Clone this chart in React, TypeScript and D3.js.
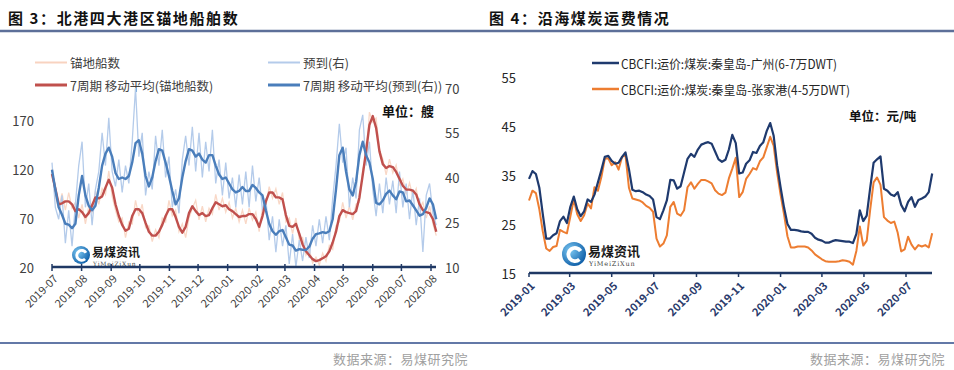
import React from 'react';
import * as d3 from 'd3';

// ---------- Figure 3: anchored ships (left axis) & arrivals (right axis) ----------
const anchorMonths = ['2019-07', '2019-08', '2019-09', '2019-10', '2019-11', '2019-12', '2020-01', '2020-02', '2020-03', '2020-04', '2020-05', '2020-06', '2020-07', '2020-08'];
const anchorLeftTicks = [20, 70, 120, 170];
const anchorRightTicks = [10, 25, 40, 55, 70];
const anchorStart = '2019-07-01';
const anchorStepDays = 3.5;

// 锚地船数 (raw)
const anchorRaw = [
  120, 92, 80, 95, 78, 96, 80, 86, 70, 84,
  64, 82, 76, 98, 84, 100, 94, 118, 92, 78,
  66, 70, 50, 66, 64, 88, 72, 84, 60, 62,
  46, 58, 50, 70, 66, 88, 72, 78, 56, 64,
  50, 70, 80, 88, 68, 82, 66, 80, 74, 94,
  78, 90, 76, 86, 70, 80, 66, 78, 64, 80,
  68, 76, 56, 80, 82, 102, 90, 100, 84, 96,
  66, 70, 54, 70, 48, 50, 32, 38, 24, 30,
  22, 34, 26, 42, 38, 62, 66, 86, 70, 82,
  68, 84, 86, 120, 130, 178, 168, 172, 140, 130,
  114, 130, 116, 124, 104, 110, 94, 106, 92, 100,
  80, 86, 70, 82, 64, 52,
];
// 7周期 移动平均(锚地船数)
const anchorMA = [
  115, 100, 84, 85, 87, 87, 84, 77, 79, 76,
  71, 75, 83, 91, 90, 92, 101, 109, 101, 84,
  72, 63, 57, 59, 72, 79, 79, 75, 65, 56,
  52, 52, 56, 63, 72, 79, 79, 71, 61, 55,
  61, 75, 82, 77, 73, 75, 72, 73, 80, 86,
  84, 82, 83, 79, 77, 74, 71, 72, 72, 74,
  74, 69, 61, 72, 87, 96, 96, 91, 91, 89,
  73, 62, 61, 64, 54, 43, 36, 32, 28, 26,
  27, 29, 31, 36, 45, 56, 72, 78, 76, 75,
  74, 77, 91, 114, 138, 165, 174, 162, 138, 125,
  121, 123, 122, 117, 110, 103, 99, 99, 98, 94,
  84, 78, 76, 75, 69, 56,
];
// 预到(右) (raw)
const arrivalRaw = [
  45, 30, 26, 34, 18, 29, 17, 31, 44, 52,
  30, 38, 24, 36, 42, 55, 44, 60, 42, 37,
  46, 35, 44, 38, 52, 70, 47, 55, 34, 42,
  36, 54, 44, 56, 40, 47, 30, 36, 28, 46,
  54, 44, 57, 42, 55, 40, 52, 42, 56, 38,
  46, 34, 45, 33, 40, 30, 41, 31, 42, 30,
  44, 32, 40, 29, 33, 19, 27, 15, 26, 17,
  24, 11, 21, 10, 19, 12, 20, 13, 24, 17,
  26, 18, 27, 19, 33, 44, 58, 45, 50, 30,
  40, 33, 56, 61, 44, 52, 36, 27, 38, 28,
  40, 31, 39, 28, 42, 30, 38, 26, 36, 24,
  33, 15, 34, 38, 28, 24,
];
// 7周期 移动平均(预到(右))
const arrivalMA = [
  42.6, 36, 30, 27.5, 24.5, 24.2, 23, 24.5, 34, 40.5,
  34, 30.5, 29, 30.5, 36.5, 44, 48, 50, 47, 41.5,
  39.5, 40, 39.5, 40.5, 45, 51.5, 52.5, 48, 40.5, 37,
  40, 45.5, 49.5, 49, 45, 40.5, 35.5, 31, 33, 40,
  45.5, 49.5, 49, 47, 48, 46, 45, 47.5, 47.5, 44,
  41, 39.5, 40, 38, 36, 35, 35.5, 36.8, 35.5, 35.5,
  37.5, 36.5, 35, 34, 29, 24.5, 22, 20.8, 22, 22.4,
  20, 17.5, 17.2, 15.5, 16, 15.8, 15.7, 16.8, 19.5, 21,
  21.3, 21.7, 21.4, 22, 26, 36, 47.5, 50, 42, 36,
  34, 38.5, 47.5, 52, 47.5, 45, 39.5, 31.5, 31, 32.3,
  34.5, 35.6, 34, 32.7, 35.3, 35, 32, 32.3, 30.7, 29,
  27.2, 27.7, 29.8, 33, 31, 26,
];

// ---------- Figure 4: coastal coal freight ----------
const freightMonths = ['2019-01', '2019-03', '2019-05', '2019-07', '2019-09', '2019-11', '2020-01', '2020-03', '2020-05', '2020-07'];
const freightTicks = [15, 25, 35, 45, 55];
const freightStart = '2019-01-01';
const freightStepDays = 5;
// CBCFI:运价:煤炭:秦皇岛-广州(6-7万DWT)
const qhdGuangzhou = [
  34.2, 35.8, 35.2, 32.4, 27, 22, 22, 22.7, 23.1, 25.6,
  26.5, 25.2, 28.5, 30.6, 28, 26.6, 27.6, 30, 29.5, 31,
  33.5, 36, 38.7, 38.9, 37.9, 37.3, 37.5, 38.7, 39.6, 36.2,
  32, 31.7, 31.8, 31.5, 31, 30.7, 30, 26.4, 26, 27.8,
  29.8, 34, 33.9, 32.2, 32.7, 35.5, 38.3, 39.3, 38.7, 40.2,
  41.2, 41.5, 41.7, 41.4, 39.8, 38.2, 37.7, 38.1, 40.2, 43.2,
  41.5, 35.3, 35.5, 37.3, 38, 39.7, 39.5, 40.9, 41.7, 44,
  45.6, 43, 37, 32.5, 28.4, 25, 23.8, 23.8, 23.7, 23.5,
  23.4, 23.4, 23, 22.2, 21.8, 21.6, 21.2, 21.2, 21.5, 21.7,
  21.6, 21.5, 21.4, 21.4, 21.1, 23, 27.8, 25.6, 26.7, 32.3,
  37.5, 38.2, 38.8, 32.2, 31.8, 31, 30.7, 31.5, 28.9, 27.6,
  29.5, 30.5, 28.5, 29.9, 30.2, 30.6, 31.5, 35.3,
];
// CBCFI:运价:煤炭:秦皇岛-张家港(4-5万DWT)
const qhdZhangjiagang = [
  29.8, 31.8, 31.3, 28, 23.5, 20, 19.5, 20.3, 20.5, 23.8,
  23.4, 23.1, 26.5, 30, 27, 25.6, 26.8, 29.2, 28.2, 32.5,
  31.8, 34.6, 38.3, 38.4, 37, 37.6, 36.1, 38.7, 39, 32.4,
  30.2, 30, 29.8, 29.4, 28.7, 28.3, 27.5, 22, 20.4, 21,
  22.7, 28.5, 29.5, 27.1, 26.7, 27.8, 32.5, 33.5, 32.2, 33.2,
  34, 34, 33.7, 33.3, 31.9, 31.2, 30.9, 31.4, 34.3, 36.3,
  38.5, 30.5, 31.5, 34.2, 35.2, 36.4, 36.1, 37.8, 38.6, 40.7,
  42.8, 41, 35.5, 31, 27, 22.5, 20.2, 20.2, 20.4, 20.4,
  20.4, 20.2, 19.6, 18.8, 18.3, 17.8, 17.4, 17.3, 17.3, 17.3,
  17.4, 17.6, 17.5, 17.3, 16.7, 19.5, 24.5, 20.6, 21.6, 27.9,
  33.5, 34.5, 33, 26.4, 25.7, 25.2, 25.5, 23.2, 19.4, 19.8,
  22.4, 20.8, 19.8, 20.7, 20.4, 20.7, 20.2, 23.1,
];

const FONT = '"Noto Sans CJK SC", "Noto Sans", "DejaVu Sans", sans-serif';
const DAY = 864e5;
const parseMonth = d3.timeParse('%Y-%m');
const parseDay = d3.timeParse('%Y-%m-%d');

function datesFor(start: string, step: number, n: number): Date[] {
  const s = +(parseDay(start) as Date);
  return d3.range(n).map((i) => new Date(s + i * step * DAY));
}

function Logo({ cx, cy, r, fs }: { cx: number; cy: number; r: number; fs: number }) {
  const id = `lg${cx}`;
  return (
    <g>
      <defs>
        <radialGradient id={id} cx="35%" cy="35%" r="70%">
          <stop offset="0%" stopColor="#7cc8f2" />
          <stop offset="100%" stopColor="#0f5fa8" />
        </radialGradient>
      </defs>
      <circle cx={cx} cy={cy} r={r} fill={`url(#${id})`} />
      <path
        d={`M ${cx + r * 0.55} ${cy - r * 0.25} A ${r * 0.55} ${r * 0.55} 0 1 0 ${cx + r * 0.45} ${cy + r * 0.45}`}
        stroke="#fff"
        strokeWidth={r * 0.32}
        fill="none"
      />
      <text x={cx + r + 2} y={cy + 2} fontSize={fs} fontWeight={700} fill="#1a1a1a" fontFamily={FONT}>易煤资讯</text>
      <text x={cx + r + 3} y={cy + fs * 0.95} fontSize={fs * 0.5} fill="#444" fontFamily="DejaVu Serif, serif" letterSpacing={0.8}>YiMeiZiXun</text>
    </g>
  );
}

function AnchorChart() {
  const x = d3.scaleTime().domain([parseMonth('2019-07') as Date, parseMonth('2020-08') as Date]).range([52, 431]);
  const yL = d3.scaleLinear().domain([20, 220]).range([267, 71]);
  const yR = d3.scaleLinear().domain([10, 70]).range([267, 88]);
  const dates = datesFor(anchorStart, anchorStepDays, anchorMA.length);
  const lineL = d3.line<number>().x((_, i) => x(dates[i])).y((d) => yL(d));
  const lineR = d3.line<number>().x((_, i) => x(dates[i])).y((d) => yR(d));
  const axisY = 267;
  return (
    <g fontFamily={FONT}>
      <text x={8} y={24} fontSize={15} fontWeight={700} fill="#111" letterSpacing={1.6}>图 3：北港四大港区锚地船舶数</text>
      {/* legend */}
      <line x1={35} x2={67} y1={62.5} y2={62.5} stroke="#f8d3c0" strokeWidth={2} />
      <text x={70} y={62.5} dominantBaseline="central" fontSize={12.5} fill="#404040">锚地船数</text>
      <line x1={268} x2={300} y1={62.5} y2={62.5} stroke="#b4cbea" strokeWidth={2} />
      <text x={303} y={62.5} dominantBaseline="central" fontSize={12.5} fill="#404040">预到(右)</text>
      <line x1={35} x2={67} y1={85} y2={85} stroke="#c0504d" strokeWidth={3} />
      <text x={70} y={85} dominantBaseline="central" fontSize={12.5} fill="#404040">7周期 移动平均(锚地船数)</text>
      <line x1={268} x2={300} y1={85} y2={85} stroke="#4a7ebb" strokeWidth={3} />
      <text x={303} y={85} dominantBaseline="central" fontSize={12.5} fill="#404040">7周期 移动平均(预到(右))</text>
      <text x={382} y={110} dominantBaseline="central" fontSize={13} fontWeight={700} fill="#111">单位：艘</text>

      {/* y labels */}
      {anchorLeftTicks.map((t) => (
        <text key={t} x={34} y={yL(t)} textAnchor="end" dominantBaseline="central" fontSize={13} fill="#404040">{t}</text>
      ))}
      {anchorRightTicks.map((t) => (
        <text key={t} x={445} y={yR(t)} textAnchor="start" dominantBaseline="central" fontSize={13} fill="#404040">{t}</text>
      ))}

      <Logo cx={81} cy={255} r={9} fs={12} />

      {/* series */}
      <path d={lineL(anchorRaw) || ''} fill="none" stroke="#f9d8c7" strokeWidth={1.3} />
      <path d={lineR(arrivalRaw) || ''} fill="none" stroke="#b4cbea" strokeWidth={1.3} />
      <path d={lineL(anchorMA) || ''} fill="none" stroke="#c0504d" strokeWidth={2.4} strokeLinejoin="round" />
      <path d={lineR(arrivalMA) || ''} fill="none" stroke="#4a7ebb" strokeWidth={2.4} strokeLinejoin="round" />

      {/* x axis */}
      <line x1={52} x2={436} y1={axisY} y2={axisY} stroke="#1f3864" strokeWidth={2.5} />
      {anchorMonths.map((m) => {
        const px = x(parseMonth(m) as Date);
        return (
          <g key={m}>
            <line x1={px} x2={px} y1={axisY - 3} y2={axisY + 4} stroke="#1f3864" strokeWidth={1.5} />
            <text transform={`translate(${px + 3},${axisY + 9}) rotate(-45)`} textAnchor="end" dominantBaseline="central" fontSize={11} fill="#404040">{m}</text>
          </g>
        );
      })}
      <text x={468} y={358} textAnchor="end" dominantBaseline="central" fontSize={13} fill="#a0a0a0" letterSpacing={0.5}>数据来源：易煤研究院</text>
    </g>
  );
}

function FreightChart() {
  const x = d3.scaleTime().domain([parseMonth('2019-01') as Date, parseMonth('2020-07') as Date]).range([529, 906]);
  const y = d3.scaleLinear().domain([15, 55]).range([273, 77]);
  const dates = datesFor(freightStart, freightStepDays, qhdGuangzhou.length);
  const line = d3.line<number>().x((_, i) => x(dates[i])).y((d) => y(d));
  const axisY = 273;
  return (
    <g fontFamily={FONT}>
      <text x={489} y={24} fontSize={15} fontWeight={700} fill="#111" letterSpacing={1.6}>图 4：沿海煤炭运费情况</text>
      <line x1={592} x2={619} y1={63} y2={63} stroke="#1f3a6e" strokeWidth={2.5} />
      <text x={621} y={63} dominantBaseline="central" fontSize={12.5} fill="#262626" textLength={216} lengthAdjust="spacingAndGlyphs">CBCFI:运价:煤炭:秦皇岛-广州(6-7万DWT)</text>
      <line x1={592} x2={619} y1={89} y2={89} stroke="#ed7d31" strokeWidth={2.5} />
      <text x={621} y={89} dominantBaseline="central" fontSize={12.5} fill="#262626" textLength={229} lengthAdjust="spacingAndGlyphs">CBCFI:运价:煤炭:秦皇岛-张家港(4-5万DWT)</text>
      <text x={849} y={115} dominantBaseline="central" fontSize={12.5} fontWeight={700} fill="#111">单位：元/吨</text>

      {freightTicks.map((t) => (
        <text key={t} x={516} y={y(t)} textAnchor="end" dominantBaseline="central" fontSize={13} fill="#262626">{t}</text>
      ))}

      <Logo cx={574} cy={254} r={12} fs={13} />

      <path d={line(qhdZhangjiagang) || ''} fill="none" stroke="#ed7d31" strokeWidth={2} strokeLinejoin="round" />
      <path d={line(qhdGuangzhou) || ''} fill="none" stroke="#1f3a6e" strokeWidth={2.2} strokeLinejoin="round" />

      <line x1={529} x2={932} y1={axisY} y2={axisY} stroke="#1f3864" strokeWidth={2.5} />
      {freightMonths.map((m) => {
        const px = x(parseMonth(m) as Date);
        return (
          <g key={m}>
            <line x1={px} x2={px} y1={axisY} y2={axisY + 4} stroke="#1f3864" strokeWidth={1.5} />
            <text transform={`translate(${px + 3},${axisY + 10}) rotate(-45)`} textAnchor="end" dominantBaseline="central" fontSize={11} fontWeight={700} fill="#2a3a6b">{m}</text>
          </g>
        );
      })}
      <text x={945} y={358} textAnchor="end" dominantBaseline="central" fontSize={13} fill="#a0a0a0" letterSpacing={0.5}>数据来源：易煤研究院</text>
    </g>
  );
}

export default function App() {
  return (
    <svg width={954} height={370} viewBox="0 0 954 370" style={{ position: 'absolute', left: 0, top: 0, background: '#fff' }}>
      <rect x={0} y={0} width={954} height={370} fill="#fff" />
      <line x1={0} x2={954} y1={31} y2={31} stroke="#5d6f99" strokeWidth={2.5} />
      <line x1={0} x2={954} y1={343} y2={343} stroke="#2f4b8a" strokeWidth={1.3} />
      <AnchorChart />
      <FreightChart />
    </svg>
  );
}
